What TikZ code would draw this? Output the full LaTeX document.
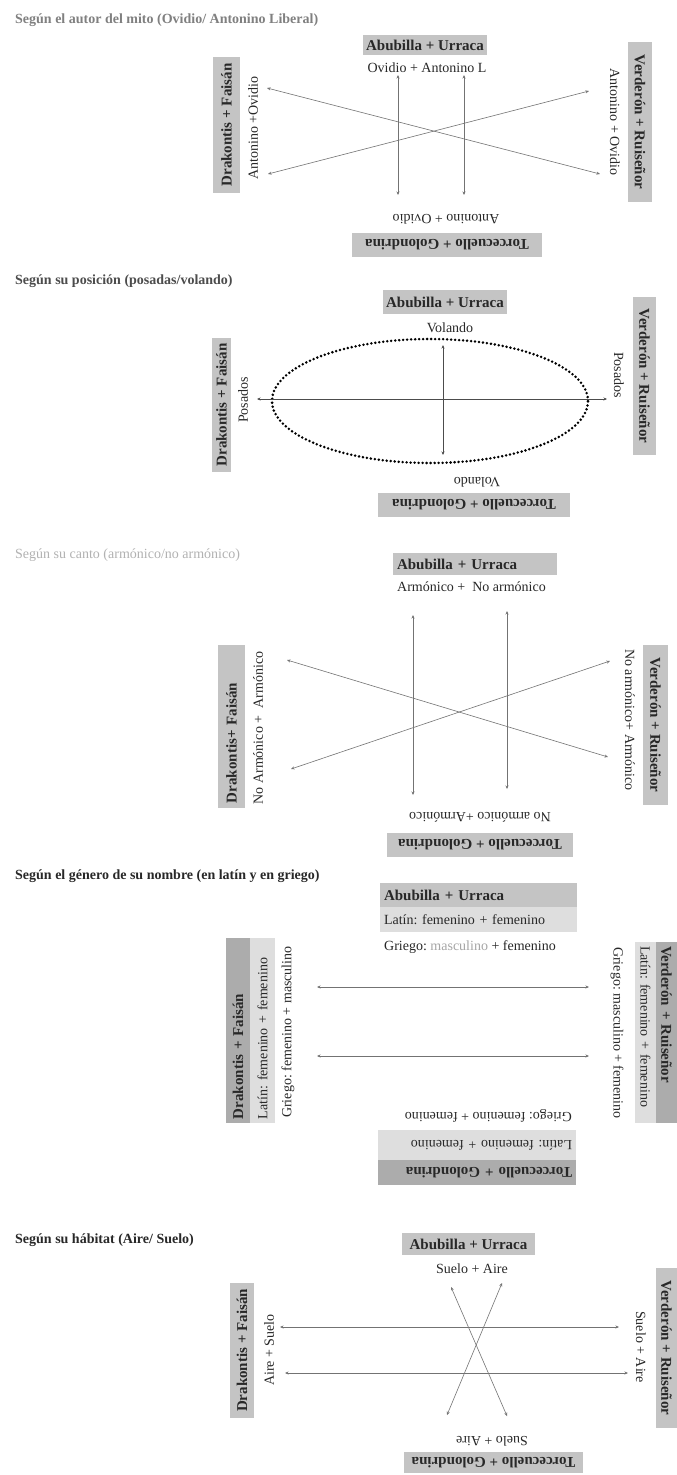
\documentclass[tikz,border=0pt]{standalone}
\usepackage{fontspec}
\setmainfont{Liberation Serif}
\usetikzlibrary{arrows.meta}
\definecolor{boxgray}{RGB}{196,196,196}
\definecolor{cellDark}{RGB}{172,172,172}
\definecolor{cellLight}{RGB}{222,222,222}
\definecolor{linegray}{RGB}{115,115,115}
\definecolor{ink}{RGB}{40,40,40}
\newcommand\boxfnt{\fontsize{15}{17}\selectfont\bfseries}
\newcommand\txtfnt{\fontsize{14}{16}\selectfont}
\newcommand\ttlfnt{\fontsize{14}{16}\selectfont\bfseries}
\frenchspacing
\begin{document}
\begin{tikzpicture}[x=1pt,y=-1pt,
  lbl/.style={fill=boxgray, text=ink, font=\boxfnt, inner sep=0pt, align=center},
  cell/.style={text=ink, font=\txtfnt, inner sep=0pt},
  txt/.style={text=ink, font=\txtfnt, inner sep=0pt},
  ttl/.style={font=\ttlfnt, anchor=west, inner sep=0pt},
  arr/.style={draw=linegray, line width=0.6pt, {Stealth[length=3.5pt,width=3pt]}-{Stealth[length=3.5pt,width=3pt]}},
  dots/.style={draw=black, line width=2.8pt, line cap=round, dash pattern=on 0pt off 4pt},
]
\useasboundingbox (0,0) rectangle (677,1475);
\fill[white] (0,0) rectangle (677,1475);

% ---------------- Section 1
\node[ttl, text=gray] (t1) at (15,20) {Según el autor del mito (Ovidio/ Antonino Liberal)};
\node[lbl, minimum width=124pt, minimum height=20pt] (a1) at (425,45) {Abubilla + Urraca};
\node[txt] (a1t) at (427,68) {Ovidio + Antonino L};
\node[lbl, rotate=90, minimum width=136pt, minimum height=27pt] (d1) at (226.5,125) {Drakontis + Faisán};
\node[txt, rotate=90] (d1t) at (253,128) {Antonino +Ovidio};
\node[lbl, rotate=-90, minimum width=160pt, minimum height=24pt] (v1) at (640,122) {Verderón + Ruiseñor};
\node[txt, rotate=-90] (v1t) at (615,122) {Antonino + Ovidio};
\node[lbl, rotate=180, minimum width=190pt, minimum height=24pt] (g1) at (447,245) {Torcecuello + Golondrina};
\node[txt, rotate=180] (g1t) at (446,219) {Antonino + Ovidio};
\coordinate (s1a) at (398,75); \coordinate (s1b) at (398,195);
\coordinate (s1c) at (464,75); \coordinate (s1d) at (464,195);
\coordinate (s1e) at (267,88); \coordinate (s1f) at (600,174);
\coordinate (s1g) at (268,174); \coordinate (s1h) at (589,91);
\draw[arr] (s1a) -- (s1b);
\draw[arr] (s1c) -- (s1d);
\draw[arr] (s1e) -- (s1f);
\draw[arr] (s1g) -- (s1h);

% ---------------- Section 2
\node[ttl, text=black!70] (t2) at (15,281) {Según su posición (posadas/volando)};
\node[lbl, minimum width=124pt, minimum height=24pt] (a2) at (445,302) {Abubilla + Urraca};
\node[txt] (a2t) at (450,328) {Volando};
\node[lbl, rotate=90, minimum width=134pt, minimum height=19pt] (d2) at (221.5,405) {Drakontis + Faisán};
\node[txt, rotate=90] (d2t) at (243,400) {Posados};
\node[lbl, rotate=-90, minimum width=158pt, minimum height=23pt] (v2) at (644.5,376) {Verderón + Ruiseñor};
\node[txt, rotate=-90] (v2t) at (619,375) {Posados};
\node[lbl, rotate=180, minimum width=192pt, minimum height=24pt] (g2) at (474,505) {Torcecuello + Golondrina};
\node[txt, rotate=180] (g2t) at (477,482) {Volando};
\draw[dots] (430,401) ellipse [x radius=158pt, y radius=62pt];
\coordinate (s2a) at (443,345); \coordinate (s2b) at (443,455);
\coordinate (s2c) at (257,399); \coordinate (s2d) at (607,399);
\draw[arr, draw=black!70] (s2a) -- (s2b);
\draw[arr, draw=black!70] (s2c) -- (s2d);

% ---------------- Section 3
\node[anchor=west, inner sep=0pt, font=\txtfnt, text=black!30] (t3) at (15,555) {Según su canto (armónico/no armónico)};
\node[lbl, minimum height=22pt, text width=156pt, inner xsep=4pt, align=left] (a3) at (475,564) {Abubilla + Urraca};
\node[txt, anchor=west] (a3t) at (397,587) {Armónico +\ \ No armónico};
\node[lbl, rotate=90, minimum height=27pt, text width=153pt, inner xsep=5pt, align=left] (d3) at (231.5,726.5) {Drakontis+ Faisán};
\node[txt, rotate=90] (d3t) at (258,728) {No Armónico +\ \ Armónico};
\node[lbl, rotate=-90, minimum width=160pt, minimum height=25pt] (v3) at (655.5,725) {Verderón + Ruiseñor};
\node[txt, rotate=-90] (v3t) at (630,720) {No armónico+ Armónico};
\node[lbl, rotate=180, minimum width=186pt, minimum height=24pt] (g3) at (480,845) {Torcecuello + Golondrina};
\node[txt, rotate=180] (g3t) at (480,817) {No armónico +Armónico};
\coordinate (s3a) at (413,615); \coordinate (s3b) at (413,795);
\coordinate (s3c) at (507,611); \coordinate (s3d) at (507,789);
\coordinate (s3e) at (287,660); \coordinate (s3f) at (608,757);
\coordinate (s3g) at (291,769); \coordinate (s3h) at (610,661);
\draw[arr] (s3a) -- (s3b);
\draw[arr] (s3c) -- (s3d);
\draw[arr] (s3e) -- (s3f);
\draw[arr] (s3g) -- (s3h);

% ---------------- Section 4
\node[ttl, text=ink] (t4) at (15,876) {Según el género de su nombre (en latín y en griego)};
\node[lbl, minimum height=24pt, text width=189pt, inner xsep=4pt, align=left] (a4) at (478.5,895) {Abubilla + Urraca};
\node[cell, fill=cellLight, minimum height=25pt, text width=189pt, inner xsep=4pt, align=left] (a4l) at (478.5,919.5) {Latín: femenino + femenino};
\node[txt, anchor=west] (a4g) at (384,947) {Griego: \textcolor{gray!70}{masculino} + femenino};
\node[lbl, fill=cellDark, rotate=90, minimum height=24pt, text width=177pt, inner xsep=4pt, align=left] (d4) at (238,1030.5) {Drakontis + Faisán};
\node[cell, fill=cellLight, rotate=90, minimum height=25pt, text width=177pt, inner xsep=4pt, align=left] (d4l) at (262.5,1030.5) {Latín: femenino + femenino};
\node[txt, rotate=90, anchor=west] (d4g) at (288,1118) {Griego: femenino + masculino};
\node[lbl, fill=cellDark, rotate=-90, minimum height=21pt, text width=173pt, inner xsep=4pt, align=left] (v4) at (666.5,1032.5) {Verderón + Ruiseñor};
\node[cell, fill=cellLight, rotate=-90, minimum height=21pt, text width=173pt, inner xsep=4pt, align=left] (v4l) at (645.5,1032.5) {Latín: femenino + femenino};
\node[txt, rotate=-90, anchor=west] (v4g) at (617,947) {Griego: masculino + femenino};
\node[lbl, fill=cellDark, rotate=180, minimum height=25pt, text width=190pt, inner xsep=4pt, align=left] (g4) at (477,1172.5) {Torcecuello + Golondrina};
\node[cell, fill=cellLight, rotate=180, minimum height=30pt, text width=190pt, inner xsep=4pt, align=left] (g4l) at (477,1145) {Latín: femenino + femenino};
\node[txt, rotate=180, anchor=west] (g4g) at (572,1116) {Griego: femenino + femenino};
\coordinate (s4a) at (317,987); \coordinate (s4b) at (589,987);
\coordinate (s4c) at (317,1056); \coordinate (s4d) at (589,1056);
\draw[arr] (s4a) -- (s4b);
\draw[arr] (s4c) -- (s4d);

% ---------------- Section 5
\node[ttl, text=ink] (t5) at (15,1240) {Según su hábitat (Aire/ Suelo)};
\node[lbl, minimum width=133pt, minimum height=22pt] (a5) at (468.5,1244) {Abubilla + Urraca};
\node[txt] (a5t) at (472,1269) {Suelo + Aire};
\node[lbl, rotate=90, minimum width=135pt, minimum height=24pt] (d5) at (242,1350.5) {Drakontis + Faisán};
\node[txt, rotate=90] (d5t) at (269,1350) {Aire + Suelo};
\node[lbl, rotate=-90, minimum width=160pt, minimum height=21pt] (v5) at (666.5,1348) {Verderón + Ruiseñor};
\node[txt, rotate=-90] (v5t) at (641,1347) {Suelo + Aire};
\node[lbl, rotate=180, minimum width=179pt, minimum height=21pt] (g5) at (493.5,1462.5) {Torcecuello + Golondrina};
\node[txt, rotate=180] (g5t) at (492,1441) {Suelo + Aire};
\coordinate (s5a) at (280,1327); \coordinate (s5b) at (619,1327);
\coordinate (s5c) at (285,1373); \coordinate (s5d) at (628,1373);
\coordinate (s5e) at (451,1287); \coordinate (s5f) at (507,1416);
\coordinate (s5g) at (502,1283); \coordinate (s5h) at (447,1415);
\draw[arr] (s5a) -- (s5b);
\draw[arr] (s5c) -- (s5d);
\draw[arr] (s5e) -- (s5f);
\draw[arr] (s5g) -- (s5h);
\end{tikzpicture}
\end{document}
